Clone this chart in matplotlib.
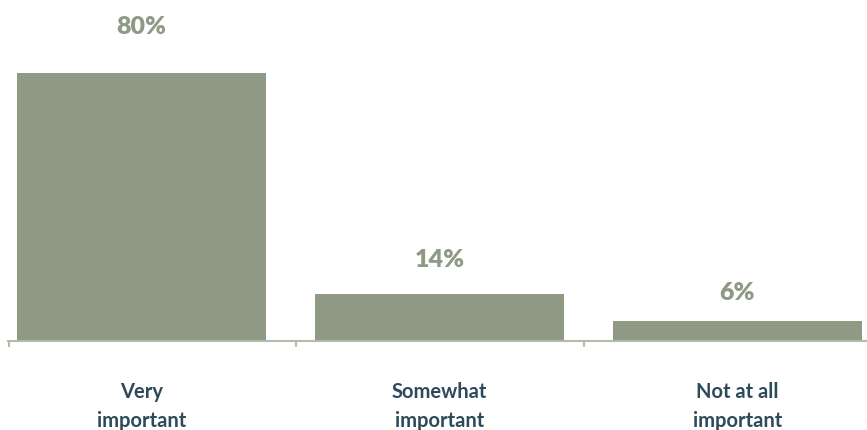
import numpy as np
import matplotlib
matplotlib.use('Agg')
import matplotlib.pyplot as plt

# data
categories = ['Very\nimportant', 'Somewhat\nimportant', 'Not at all\nimportant']
values = [80, 14, 6]
value_labels = ['80%', '14%', '6%']

# style
BAR_COLOR = '#8f9a85'
TEXT_COLOR = '#2d4a5a'
AXIS_COLOR = '#b3bba9'
plt.rcParams['font.family'] = ['Lato', 'DejaVu Sans']

fig = plt.figure(figsize=(8.67, 4.31), dpi=100)
ax = fig.add_axes([0, 0.2065, 1, 0.7773])

x = np.arange(len(values))
ax.bar(x, values, width=0.836, color=BAR_COLOR, zorder=2)

# label offsets above bar top (pixels)
label_offsets = [47, 35, 29]
for xi, v, lab, off in zip(x, values, value_labels, label_offsets):
    ax.annotate(lab, (xi, v), xytext=(0, off * 0.72), textcoords='offset points',
                ha='center', va='center', fontsize=18, fontweight='heavy',
                color=BAR_COLOR)

ax.set_xlim(-0.4748, 2.4346)
ax.set_ylim(0, 100)

for s in ['top', 'right', 'left']:
    ax.spines[s].set_visible(False)
ax.spines['bottom'].set_color(AXIS_COLOR)
ax.spines['bottom'].set_linewidth(1.5)
ax.spines['bottom'].set_bounds(-0.448, 2.4346)
ax.set_yticks([])

ax.set_xticks(x)
ax.set_xticklabels(categories, fontsize=14.5, fontweight='bold', color=TEXT_COLOR,
                   linespacing=1.55)
ax.tick_params(axis='x', which='major', length=0, pad=29)
ax.set_xticks([-0.4446, 0.518, 1.485], minor=True)
ax.tick_params(axis='x', which='minor', length=4.5, width=1.5, color=AXIS_COLOR)

fig.savefig('out.png', dpi=100)
